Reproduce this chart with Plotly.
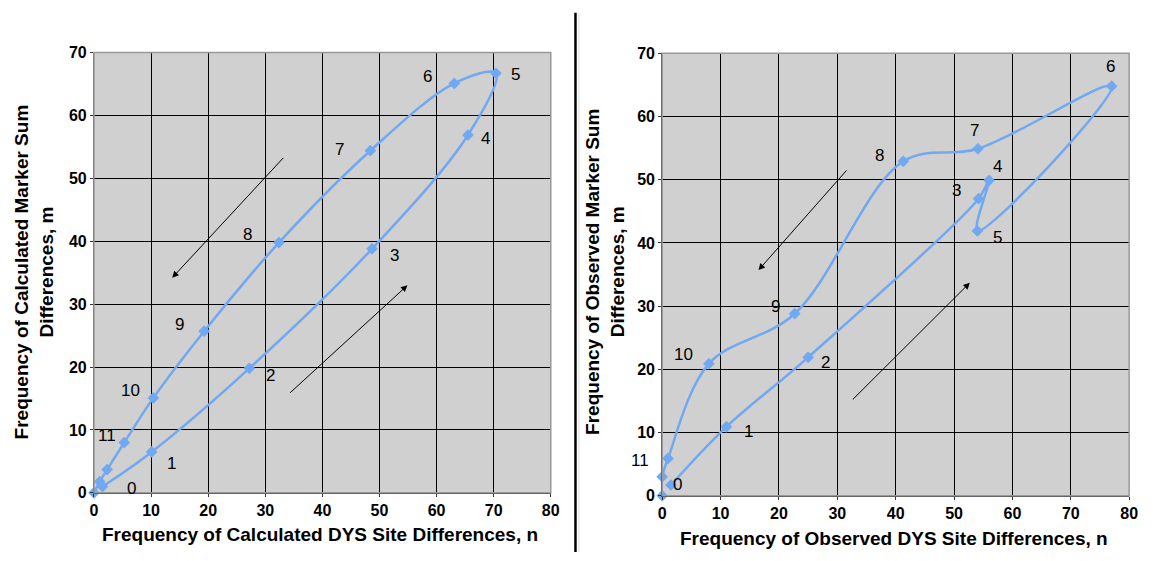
import plotly.graph_objects as go

W, H = 1153, 561

# ---------------- data ----------------
calc_x = [1.5, 10.1, 27.2, 48.7, 65.5, 70.4, 63.1, 48.4, 32.4, 19.3, 10.4, 5.3, 2.3, 1.0, 0.0]
calc_y = [1.0, 6.5, 19.8, 38.8, 56.9, 66.7, 65.1, 54.4, 39.8, 25.7, 15.1, 8.0, 3.7, 1.8, 0.0]
calc_labels = ["0", "1", "2", "3", "4", "5", "6", "7", "8", "9", "10", "11"]

obs_x = [1.5, 11.0, 25.0, 54.2, 56.0, 54.0, 77.0, 54.1, 41.3, 22.7, 8.0, 1.0, 0.0, 0.0]
obs_y = [1.7, 10.9, 21.9, 47.0, 49.9, 41.9, 64.8, 54.9, 52.9, 28.8, 20.9, 5.9, 3.0, 0.0]
obs_labels = ["0", "1", "2", "3", "4", "5", "6", "7", "8", "9", "10", "11"]

axis_ticks = [0, 10, 20, 30, 40, 50, 60, 70, 80]

# label offsets in pixels (dx right, dy down)
calc_off = [(29, 2), (20, 12), (21, 7), (22, 7), (18, 4), (20, 1), (-27, -7),
            (-31, -1), (-31, -8), (-25, -7), (-23, -7), (-17, -7)]
obs_off = [(7, -1), (22, 5), (17, 5), (-22, -8), (8, -14), (20, 7), (-1, -20),
           (-3, -18), (-24, -6), (-19, -7), (-25, -9), (-28, 2)]

# arrows: (tail_x, tail_y, head_x, head_y) in data units
calc_arrows = [(33.4, 53.5, 13.7, 34.2), (34.1, 15.7, 54.9, 33.0)]
obs_arrows = [(31.8, 51.7, 16.5, 35.7), (32.4, 15.0, 52.7, 33.7)]

LINE = "#70a8f2"
FONT = "Liberation Sans, Arial, sans-serif"

fig = go.Figure()

fig.add_trace(go.Scatter(x=calc_x, y=calc_y, mode="lines+markers",
                         line=dict(color=LINE, width=2.5, shape="spline", smoothing=1),
                         marker=dict(symbol="diamond", size=9, color=LINE),
                         xaxis="x", yaxis="y", showlegend=False, cliponaxis=False))
fig.add_trace(go.Scatter(x=obs_x, y=obs_y, mode="lines+markers",
                         line=dict(color=LINE, width=2.5, shape="spline", smoothing=1),
                         marker=dict(symbol="diamond", size=9, color=LINE),
                         xaxis="x2", yaxis="y2", showlegend=False, cliponaxis=False))


def px_x(p):
    return p / W


def px_y(p):
    return 1 - p / H


def axis(domain, anchor, rng, ticks):
    return dict(domain=domain, anchor=anchor, range=rng, tickvals=ticks,
                showgrid=True, gridcolor="black", gridwidth=1,
                zeroline=False, showline=True, linecolor="#333", linewidth=1,
                ticks="outside", ticklen=3, tickcolor="#333",
                tickfont=dict(family=FONT, size=16, color="black", weight="bold"))


xa = axis([px_x(91), px_x(553)], "y", [0, 80], axis_ticks)
ya = axis([px_y(500), px_y(46)], "x", [0, 70], axis_ticks[:8])
xa2 = axis([px_x(665.7), px_x(1138)], "y2", [0, 80], axis_ticks)
ya2 = axis([px_y(503), px_y(46.7)], "x2", [0, 70], axis_ticks[:8])

annotations = []


def add_labels(xs, ys, labels, offs, xr, yr):
    for i, lab in enumerate(labels):
        dx, dy = offs[i]
        annotations.append(dict(x=xs[i], y=ys[i], xref=xr, yref=yr, text=lab, showarrow=False,
                                xshift=dx, yshift=-dy, xanchor="center", yanchor="middle",
                                font=dict(family=FONT, size=17, color="black")))


add_labels(calc_x, calc_y, calc_labels, calc_off, "x", "y")
add_labels(obs_x, obs_y, obs_labels, obs_off, "x2", "y2")


def add_arrows(arrs, xr, yr):
    for tx, ty, hx, hy in arrs:
        annotations.append(dict(x=hx, y=hy, ax=tx, ay=ty, xref=xr, yref=yr, axref=xr, ayref=yr,
                                text="", showarrow=True, arrowhead=2, arrowsize=1.3,
                                arrowwidth=1, arrowcolor="black"))


add_arrows(calc_arrows, "x", "y")
add_arrows(obs_arrows, "x2", "y2")

TF = dict(family=FONT, size=19, color="black", weight="bold")
annotations += [
    dict(x=px_x(320), y=px_y(543), xref="paper", yref="paper", showarrow=False,
         xanchor="center", yanchor="middle",
         text="Frequency of Calculated DYS Site Differences, n", font=TF),
    dict(x=px_x(900), y=px_y(547), xref="paper", yref="paper", showarrow=False,
         xanchor="center", yanchor="middle",
         text="Frequency of Observed DYS Site Differences, n", font=TF),
    dict(x=px_x(30), y=px_y(272), xref="paper", yref="paper", showarrow=False, textangle=-90,
         xanchor="center", yanchor="middle",
         text="Frequency of Calculated Marker Sum<br>Differences, m", font=TF),
    dict(x=px_x(608), y=px_y(272), xref="paper", yref="paper", showarrow=False, textangle=-90,
         xanchor="center", yanchor="middle",
         text="Frequency of Observed Marker Sum<br>Differences, m", font=TF),
]

shapes = [
    dict(type="rect", xref="x domain", yref="y domain", x0=0, x1=1, y0=0, y1=1,
         line=dict(color="#999", width=1.5), layer="above"),
    dict(type="rect", xref="x2 domain", yref="y2 domain", x0=0, x1=1, y0=0, y1=1,
         line=dict(color="#999", width=1.5), layer="above"),
    dict(type="line", xref="paper", yref="paper", x0=px_x(578), x1=px_x(578),
         y0=px_y(5), y1=0, line=dict(color="black", width=2.5)),
    dict(type="line", xref="paper", yref="paper", x0=px_x(581.5), x1=px_x(581.5),
         y0=px_y(5), y1=0, line=dict(color="#dcdcdc", width=1)),
]

fig.update_layout(
    width=W, height=H, margin=dict(l=0, r=0, t=0, b=0),
    paper_bgcolor="white", plot_bgcolor="#d0d0d0",
    xaxis=xa, yaxis=ya, xaxis2=xa2, yaxis2=ya2,
    annotations=annotations, shapes=shapes, showlegend=False,
)

fig.write_html("out.html")
